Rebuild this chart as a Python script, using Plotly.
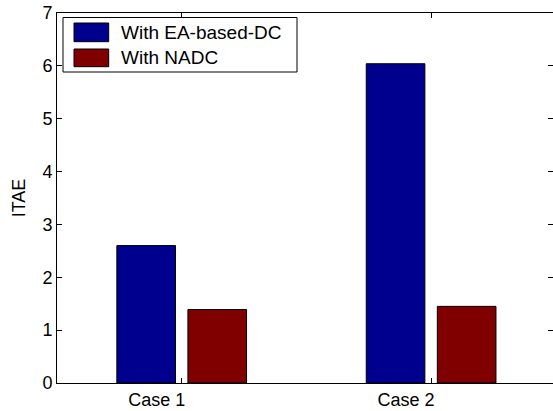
import plotly.graph_objects as go

# ITAE of the two controllers for each test case
cases = ["Case 1", "Case 2"]
itae_ea_dc = [2.60, 6.04]
itae_nadc = [1.39, 1.45]
series_names = ["With EA-based-DC", "With NADC"]
series_colors = ["#00008F", "#800000"]
y_ticks = [0, 1, 2, 3, 4, 5, 6, 7]

W, H = 553, 411
L, T, B = 57, 13, 28
plot_w = W - L
plot_h = H - T - B
FONT = dict(family="Liberation Sans, Arial, sans-serif", size=18, color="black")
LEG_FONT = dict(family="Liberation Sans, Arial, sans-serif", size=19, color="black")


def px_x(p):
    return (p - L) / plot_w


def px_y(p):
    return 1 - (p - T) / plot_h


fig = go.Figure()
for name, vals, col in zip(series_names, [itae_ea_dc, itae_nadc], series_colors):
    fig.add_trace(go.Bar(
        x=[1, 2], y=vals, name=name, showlegend=False,
        marker=dict(color=col, line=dict(color="black", width=1)),
    ))

# invisible trace carrying the right-hand tick axis
fig.add_trace(go.Scatter(x=[1], y=[0], yaxis="y2", mode="markers",
                         marker=dict(opacity=0), showlegend=False, hoverinfo="skip"))

unit_px = 249.4
x_end = 0.5 + plot_w / unit_px

fig.update_layout(
    width=W, height=H,
    margin=dict(l=L, r=0, t=T, b=B, pad=0),
    plot_bgcolor="white", paper_bgcolor="white",
    font=FONT,
    barmode="group", bargap=0.43, bargroupgap=0.175,
    xaxis=dict(
        range=[0.5, x_end], tickvals=[1, 2], ticktext=cases,
        ticks="inside", ticklen=5, tickcolor="black",
        showline=True, linecolor="black", linewidth=1, mirror="ticks",
        showgrid=False, zeroline=False, tickfont=FONT,
        ticklabelshift=-25,
    ),
    yaxis=dict(
        range=[0, 7], tickvals=y_ticks,
        ticks="inside", ticklen=5, tickcolor="black",
        showline=True, linecolor="black", linewidth=1, mirror=False,
        showgrid=False, zeroline=False, tickfont=FONT,
        title=dict(text="ITAE", font=FONT, standoff=12),
    ),
    yaxis2=dict(
        range=[0, 7], tickvals=y_ticks, overlaying="y", side="right",
        ticks="inside", ticklen=5, tickcolor="black", showticklabels=False,
        showline=False, showgrid=False, zeroline=False,
    ),
)

# legend box drawn as shapes and text
shapes = [dict(type="rect", xref="paper", yref="paper",
               x0=px_x(63), x1=px_x(297), y0=px_y(72), y1=px_y(17.5),
               line=dict(color="black", width=1), fillcolor="white", layer="above")]
annotations = []
rows = [(23, 41.7), (49, 66.7)]
for (y0, y1), name, col in zip(rows, series_names, series_colors):
    shapes.append(dict(type="rect", xref="paper", yref="paper",
                       x0=px_x(74), x1=px_x(108.7), y0=px_y(y1), y1=px_y(y0),
                       line=dict(color="black", width=1), fillcolor=col, layer="above"))
    annotations.append(dict(xref="paper", yref="paper", x=px_x(119), y=px_y((y0 + y1) / 2),
                            xanchor="left", yanchor="middle", text=name, showarrow=False,
                            font=LEG_FONT))
fig.update_layout(shapes=shapes, annotations=annotations)

fig.write_html("out.html")
